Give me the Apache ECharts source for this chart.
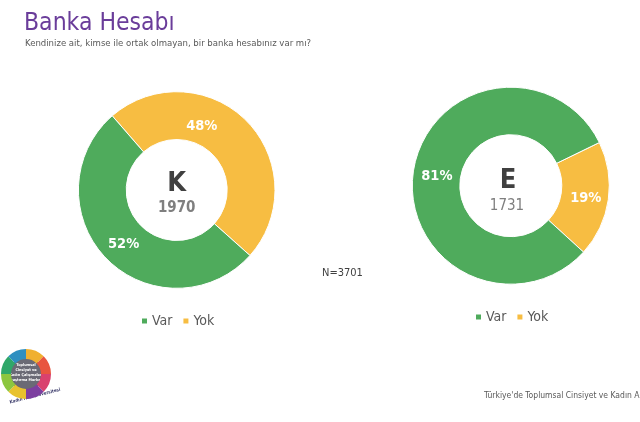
<!DOCTYPE html>
<html><head><meta charset="utf-8">
<style>html,body{margin:0;padding:0;background:#fff}#c{width:640px;height:422px}</style>
<script src="https://cdn.jsdelivr.net/npm/echarts@6/dist/echarts.min.js"></script>
</head><body><div id="c"></div>
<script>
const categories = ['Yok', 'Var'];
const legendOrder = ['Var', 'Yok'];
const kadinValues = [48, 52];
const erkekValues = [19, 81];
const kadinN = '1970';
const erkekN = '1731';
const logoSegments = [12, 12, 12, 12, 12, 12, 12, 12];
const logoColors = ['#f0b030', '#e8553f', '#d9416e', '#7d3fa0', '#e8c22e', '#8cc63f', '#2fa76a', '#2f8fc0'];
const FONT = '"DejaVu Sans Condensed", "Noto Sans", sans-serif';
const colors = { Yok: '#f7bd42', Var: '#4fab5c' };

function donut(values, center, radius, startAngle, shifts) {
  return {
    type: 'pie', center, radius, startAngle, clockwise: true, silent: true, animation: false,
    itemStyle: { borderColor: '#fff', borderWidth: 1 },
    data: categories.map((n, i) => ({
      name: n, value: values[i], itemStyle: { color: colors[n] },
      label: { offset: shifts[i] }
    })),
    label: {
      show: true, position: 'inside', formatter: '{c}%', color: '#fff',
      fontFamily: FONT, fontSize: 14.5, fontWeight: 'bold'
    },
    labelLine: { show: false }
  };
}
function legend(left, top) {
  return {
    data: legendOrder, left, top, orient: 'horizontal', icon: 'rect',
    itemWidth: 7, itemHeight: 7, itemGap: 9, selectedMode: false,
    textStyle: { color: '#595959', fontFamily: FONT, fontSize: 14, padding: [0, 0, 0, -1] }
  };
}
const chart = echarts.init(document.getElementById('c'), null, { renderer: 'canvas' });
chart.setOption({
  backgroundColor: '#fff',
  animation: false,
  title: [
    { text: 'Banka Hesabı', left: 24, top: 11, padding: 0,
      textStyle: { fontFamily: FONT, fontSize: 24.5, fontWeight: 'normal', color: '#6a3d9a' } },
    { text: 'Kendinize ait, kimse ile ortak olmayan, bir banka hesabınız var mı?', left: 25, top: 39, padding: 0,
      textStyle: { fontFamily: FONT, fontSize: 9.5, fontWeight: 'normal', color: '#595959' } },
    { text: 'N=3701', left: 322, top: 268, padding: 0,
      textStyle: { fontFamily: FONT, fontSize: 11, fontWeight: 'normal', color: '#404040' } },
    { text: 'Türkiye\'de Toplumsal Cinsiyet ve Kadın Algısı', left: 484, top: 391, padding: 0,
      textStyle: { fontFamily: FONT, fontSize: 8.5, fontWeight: 'normal', color: '#595959' } }
  ],
  legend: [legend(135, 309), legend(469, 305)],
  series: [
    donut(kadinValues, [176.7, 190], [50.5, 98.3], 131, [[-30, -9], [2, 0]]),
    donut(erkekValues, [510.8, 185.7], [51, 98.5], 26, [[-2, 1], [3, 2]]),
    { type: 'pie', center: [26, 374], radius: [15, 25], silent: true, animation: false,
      label: { show: false }, labelLine: { show: false },
      legendHoverLink: false, itemStyle: { borderWidth: 0 },
      data: logoSegments.map((v, i) => ({ name: 'logo' + i, value: v, itemStyle: { color: logoColors[i] } })) }
  ],
  graphic: [
    { type: 'text', x: 176.7, y: 184, style: { text: 'K', fontFamily: FONT, fontSize: 27, fontWeight: 'bold', fill: '#404040', align: 'center', verticalAlign: 'middle' } },
    { type: 'text', x: 176.7, y: 208, style: { text: kadinN, fontFamily: FONT, fontSize: 15, fontWeight: 'bold', fill: '#7f7f7f', align: 'center', verticalAlign: 'middle' } },
    { type: 'text', x: 508, y: 181, style: { text: 'E', fontFamily: FONT, fontSize: 27, fontWeight: 'bold', fill: '#404040', align: 'center', verticalAlign: 'middle' } },
    { type: 'text', x: 507, y: 206.5, style: { text: erkekN, fontFamily: FONT, fontSize: 15, fill: '#7f7f7f', align: 'center', verticalAlign: 'middle' } },
    { type: 'polyline', shape: { points: [[217, 124], [222, 126], [230, 138]], smooth: 0.4 }, style: { stroke: '#b9a77a', lineWidth: 0.8, fill: 'none' } },
    { type: 'circle', shape: { cx: 26, cy: 374, r: 17 }, style: { fill: '#6a6a75' } },
    { type: 'text', x: 26, y: 373, style: { text: 'Toplumsal\nCinsiyet ve\nKadın Çalışmaları\nAraştırma Merkezi', fontFamily: FONT, fontSize: 3.8, fontWeight: 'bold', lineHeight: 5, fill: '#fff', align: 'center', verticalAlign: 'middle' } },
    { type: 'text', x: 35, y: 396, rotation: 0.25, style: { text: 'Kadın Han Üniversitesi', fontFamily: FONT, fontSize: 4.5, fontWeight: 'bold', fill: '#3a3a6a', align: 'center', verticalAlign: 'middle' } }
  ]
});
</script></body></html>
